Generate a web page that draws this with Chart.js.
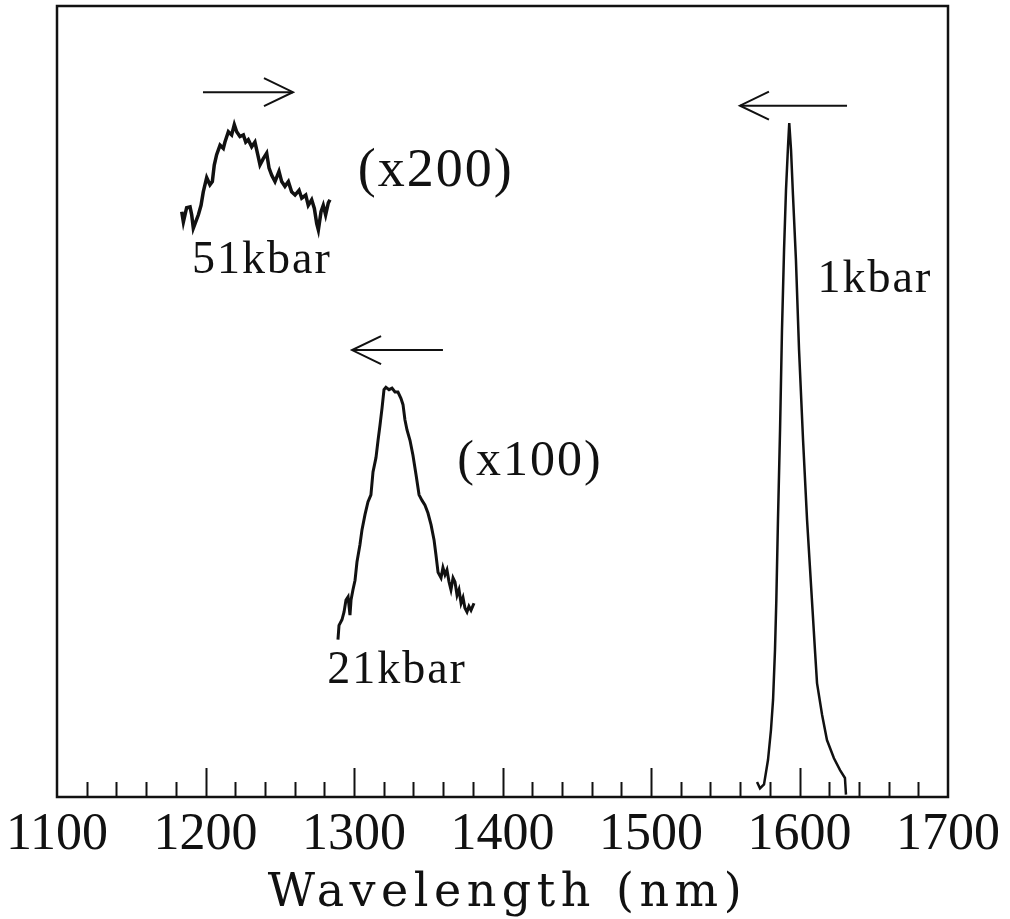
<!DOCTYPE html>
<html><head><meta charset="utf-8">
<script src="https://cdn.jsdelivr.net/npm/chart.js@4"></script>
<style>html,body{margin:0;padding:0;background:#fff}</style>
</head><body>
<canvas id="c" width="1010" height="919"></canvas>
<script>
// ---- data (wavelength in nm, intensity in arbitrary units 0..100) ----
const xTickLabels = [1100, 1200, 1300, 1400, 1500, 1600, 1700];

const wl1k  = [1571.4,1573.4,1576.1,1578.8,1580.8,1582.2,1583.5,1584.4,1585.5,1586.9,1588.2,1589.6,1590.9,1592.3,1593.1,1594.3,1595.6,1597.6,1599.7,1602.4,1605.1,1608.8,1610.4,1611.8,1615.2,1618.5,1623.2,1627.3,1630.6,1631.3];
const int1k = [1.9,1.1,1.6,4.7,8.5,12.3,18.6,24.9,35.0,46.4,59.0,69.2,76.7,82.4,85.2,81.8,76.1,67.9,56.5,45.1,35.0,23.6,18.6,14.4,10.4,7.2,4.9,3.4,2.4,0.3];

const wl21k  = [1289.2,1289.9,1291.9,1293.3,1294.6,1296.0,1297.3,1298.0,1299.3,1300.7,1302.0,1304.0,1305.4,1307.4,1309.4,1311.4,1312.8,1314.8,1316.2,1317.5,1318.9,1320.2,1321.5,1323.6,1325.6,1327.6,1329.6,1331.6,1333.0,1334.3,1335.7,1337.7,1339.7,1341.8,1343.8,1345.8,1347.8,1349.8,1351.9,1353.9,1355.2,1356.6,1358.6,1359.9,1361.3,1362.6,1364.0,1365.3,1366.7,1368.0,1369.4,1370.7,1372.1,1373.4,1374.7,1376.1,1377.4,1378.8,1380.8];
const int21k = [19.9,21.7,22.4,23.4,24.9,25.3,23.0,24.9,26.2,27.4,29.7,31.9,33.8,35.7,37.3,38.2,41.1,42.9,45.1,47.0,49.2,51.5,51.8,51.5,51.7,51.2,51.2,50.4,49.6,47.7,46.4,45.1,43.2,40.7,38.2,37.5,36.9,35.9,34.4,32.5,30.6,28.4,27.7,29.0,28.1,28.7,27.2,26.2,27.7,27.2,25.5,26.2,24.5,25.2,23.9,23.4,24.1,23.6,24.5];

const wl51k  = [1184.0,1185.1,1187.3,1189.6,1190.7,1191.8,1193.4,1195.2,1197.0,1198.5,1200.8,1203.0,1204.6,1205.9,1207.5,1209.8,1212.0,1213.1,1215.4,1217.6,1219.4,1221.0,1223.2,1225.5,1227.1,1228.8,1231.1,1233.3,1235.2,1236.7,1238.9,1241.2,1242.8,1244.6,1246.8,1249.5,1251.3,1253.5,1255.8,1258.0,1260.3,1263.0,1264.8,1267.5,1269.2,1271.5,1273.3,1274.9,1276.0,1277.8,1279.3,1280.9,1282.7,1283.8];
const int51k = [74.0,72.7,74.5,74.6,73.6,71.9,72.7,73.6,74.8,76.5,78.3,77.4,77.8,79.9,81.2,82.4,82.0,82.8,84.1,83.7,85.0,84.1,83.5,83.7,82.8,83.1,82.2,82.8,81.2,79.9,80.7,81.4,79.5,78.6,77.8,79.1,77.8,77.2,77.8,76.5,76.1,76.7,75.7,76.1,74.8,75.5,74.4,72.5,71.7,74.0,74.8,73.6,75.1,75.5];

// annotations (data coordinates)
const labelTexts = ['(x200)', '51kbar', '1kbar', '21kbar', '(x100)'];
const labelX = [1355.0, 1238.0, 1650.8, 1329.0, 1418.5];
const labelY = [77.2, 66.2, 63.8, 14.4, 40.7];
const arrowFromX = [1198.3, 1359.9, 1632.0];
const arrowToX   = [1258.9, 1298.7, 1559.9];
const arrowY     = [89.1, 56.5, 87.4];

// ---- chart ----
const INK = '#111';
const toXY = (xs, ys) => xs.map((x, i) => ({x, y: ys[i]}));

const overlay = {
  id: 'overlay',
  afterLayout(chart) {
    const s = chart.scales.x;
    if (s && !s._lsPatched) {
      const orig = s.drawTitle.bind(s);
      s.drawTitle = function () {
        const c = this.ctx; const prev = c.letterSpacing;
        c.letterSpacing = '5.5px';
        c.save(); c.translate(5, 0); orig(); c.restore();
        c.letterSpacing = prev || '0px';
      };
      s._lsPatched = true;
    }
  },
  afterDraw(chart) {
    const {ctx, chartArea: a, scales: {x, y}} = chart;
    ctx.save();
    ctx.strokeStyle = INK; ctx.fillStyle = INK;
    // frame
    ctx.lineWidth = 2.5;
    ctx.strokeRect(a.left, a.top, a.right - a.left, a.bottom - a.top);
    // inward ticks
    ctx.lineWidth = 2;
    for (let v = 1120; v < 1700; v += 20) {
      const px = Math.round(x.getPixelForValue(v)) + 0.5;
      const len = (v % 100 === 0) ? 29 : 15;
      ctx.beginPath(); ctx.moveTo(px, a.bottom); ctx.lineTo(px, a.bottom - len); ctx.stroke();
    }
    // arrows
    ctx.lineWidth = 2;
    for (let i = 0; i < arrowY.length; i++) {
      const x0 = x.getPixelForValue(arrowFromX[i]);
      const x1 = x.getPixelForValue(arrowToX[i]);
      const py = y.getPixelForValue(arrowY[i]);
      const dir = x1 > x0 ? 1 : -1;
      ctx.beginPath(); ctx.moveTo(x0, py); ctx.lineTo(x1, py); ctx.stroke();
      ctx.beginPath();
      ctx.moveTo(x1 - dir * 29, py - 14); ctx.lineTo(x1, py); ctx.lineTo(x1 - dir * 29, py + 14);
      ctx.stroke();
    }
    // text labels
    ctx.textAlign = 'center'; ctx.textBaseline = 'alphabetic';
    ctx.letterSpacing = '2px';
    for (let i = 0; i < labelTexts.length; i++) {
      const t = labelTexts[i];
      ctx.font = t === '(x200)' ? '54px "Liberation Serif"' : (t.startsWith('(') ? '50px "Liberation Serif"' : '46px "Liberation Serif"');
      ctx.fillText(t, x.getPixelForValue(labelX[i]), y.getPixelForValue(labelY[i]));
    }
    ctx.restore();
  }
};

const lineStyle = {borderColor: INK, borderWidth: 2.5, pointRadius: 0, fill: false, tension: 0};

new Chart(document.getElementById('c'), {
  type: 'line',
  data: {
    datasets: [
      Object.assign({label: '1kbar', data: toXY(wl1k, int1k)}, lineStyle),
      Object.assign({label: '21kbar', data: toXY(wl21k, int21k)}, lineStyle, {borderWidth: 3}),
      Object.assign({label: '51kbar', data: toXY(wl51k, int51k)}, lineStyle, {borderWidth: 3.5})
    ]
  },
  options: {
    responsive: false,
    animation: false,
    devicePixelRatio: 1,
    layout: {padding: {left: 57, right: 62, top: 6, bottom: 0}},
    plugins: {legend: {display: false}, tooltip: {enabled: false}},
    scales: {
      x: {
        type: 'linear', min: xTickLabels[0], max: xTickLabels[xTickLabels.length - 1],
        afterBuildTicks: s => { s.ticks = xTickLabels.map(v => ({value: v})); },
        ticks: {
          color: INK, padding: 4, maxRotation: 0, autoSkip: false,
          font: {family: '"Liberation Serif"', size: 52, lineHeight: 1},
          callback: v => String(v)
        },
        grid: {display: false},
        border: {display: false},
        title: {
          display: true, text: 'Wavelength (nm)', color: INK,
          font: {family: '"DejaVu Serif"', size: 46, lineHeight: 1},
          padding: {top: 0, bottom: 2}
        },
        afterFit: s => { s.height = 122; s.paddingLeft = 0; s.paddingRight = 0; }
      },
      y: {type: 'linear', min: 0, max: 100, display: false}
    }
  },
  plugins: [overlay]
});
</script>
</body></html>
